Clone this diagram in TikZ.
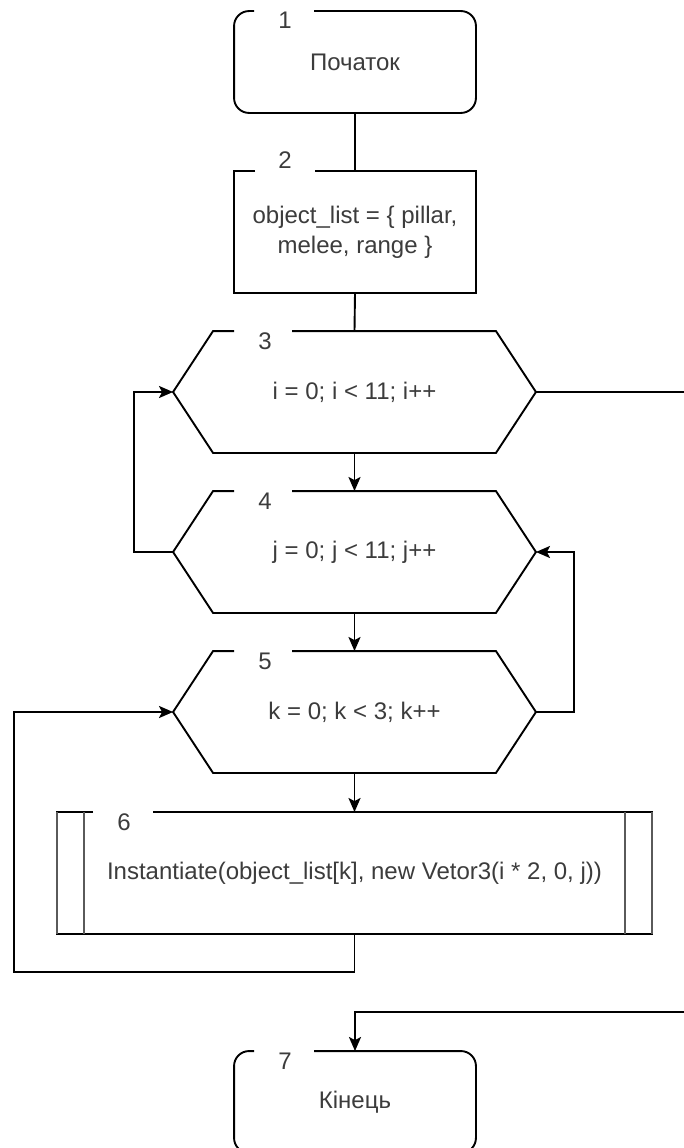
\documentclass[tikz,border=0pt]{standalone}
\usepackage{fontspec}
\setmainfont{Liberation Sans}
\usetikzlibrary{arrows.meta}
\definecolor{txtc}{RGB}{60,60,60}
\definecolor{subc}{RGB}{90,90,90}
\begin{document}
\begin{tikzpicture}[x=1pt,y=-1pt,line width=1.9pt,
  txt/.style={font=\fontsize{24}{30}\selectfont,text=txtc},
  term/.style={minimum width=240pt,minimum height=100pt,inner sep=0pt,txt,align=center},
  proc/.style={minimum width=240pt,minimum height=120pt,inner sep=0pt,txt,align=center},
  hexa/.style={minimum width=361pt,minimum height=120pt,inner sep=0pt,txt},
  subr/.style={minimum width=593pt,minimum height=120pt,inner sep=0pt,txt},
  num/.style={inner sep=0pt,txt},
  arr/.style={-{Stealth[length=14pt,width=12pt,inset=3pt]}}]
\useasboundingbox (0,0) rectangle (684,1148);
\clip (0,0) rectangle (684,1148);
\fill[white] (0,0) rectangle (684,1148);

% nodes
\node[term] (b1) at (355,62) {Початок};
\node[proc] (b2) at (355,232) {object\_list = \{ pillar,\\ melee, range \}};
\node[hexa] (h3) at (354.5,392) {i = 0; i < 11; i++};
\node[hexa] (h4) at (354.5,552) {j = 0; j < 11; j++};
\node[hexa] (h5) at (354.5,712) {k = 0; k < 3; k++};
\node[subr] (b6) at (354.5,873) {Instantiate(object\_list[k], new Vetor3(i * 2, 0, j))};
\node[term] (b7) at (355,1102) {Кінець};

% numbers
\node[num] (n1) at (285,20) {1};
\node[num] (n2) at (285,160) {2};
\node[num] (n3) at (265,341) {3};
\node[num] (n4) at (265,501) {4};
\node[num] (n5) at (265,661) {5};
\node[num] (n6) at (124,822) {6};
\node[num] (n7) at (285,1061) {7};

% outlines with gaps for numbers
\draw[rounded corners=15pt] ([xshift=20pt]b1.north west) -- (b1.north west) -- (b1.south west) -- (b1.south east) -- (b1.north east) -- ([xshift=80pt]b1.north west);
\draw ([xshift=21pt]b2.north west) -- (b2.north west) -- (b2.south west) -- (b2.south east) -- (b2.north east) -- ([xshift=81pt]b2.north west);
\foreach \h in {h3,h4,h5}{
  \draw ([xshift=61pt]\h.north west) -- ([xshift=40pt]\h.north west) -- (\h.west) -- ([xshift=40pt]\h.south west) -- ([xshift=-40pt]\h.south east) -- (\h.east) -- ([xshift=-40pt]\h.north east) -- ([xshift=119pt]\h.north west);
}
\draw ([xshift=36pt]b6.north west) -- (b6.north west) -- (b6.south west) -- (b6.south east) -- (b6.north east) -- ([xshift=96pt]b6.north west);
\draw[subc] (b6.north west) -- (b6.south west);
\draw[subc] (b6.north east) -- (b6.south east);
\draw[subc] ([xshift=27pt]b6.north west) -- ([xshift=27pt]b6.south west);
\draw[subc] ([xshift=-27pt]b6.north east) -- ([xshift=-27pt]b6.south east);
\draw[rounded corners=15pt] ([xshift=20pt]b7.north west) -- (b7.north west) -- (b7.south west) -- (b7.south east) -- (b7.north east) -- ([xshift=80pt]b7.north west);

% connector turning points
\coordinate (l6) at (14,972);
\coordinate (r5) at (574,712);
\coordinate (l4) at (134,552);
\coordinate (r3) at (720,392);
\coordinate (r7) at (720,1012);

% connectors
\draw (b1.south) -- (b2.north);
\draw (b2.south) -- (h3.north);
\draw[arr] (h3.south) -- (h4.north);
\draw[arr] (h4.south) -- (h5.north);
\draw[arr] (h5.south) -- (b6.north);
\draw[arr] (b6.south) |- (l6) |- (h5.west);
\draw[arr] (h5.east) -- (r5) |- (h4.east);
\draw[arr] (h4.west) -- (l4) |- (h3.west);
\draw[arr] (h3.east) -- (r3) -- (r7) -| (b7.north);
\end{tikzpicture}
\end{document}
